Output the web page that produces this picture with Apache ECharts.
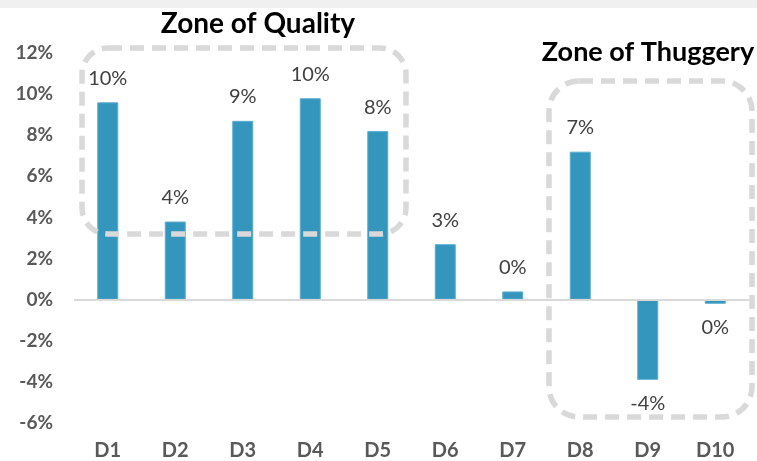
<!DOCTYPE html>
<html>
<head>
<meta charset="utf-8">
<script src="https://cdn.jsdelivr.net/npm/echarts@6/dist/echarts.min.js"></script>
<style>
  html, body { margin: 0; padding: 0; background: #fff; }
  #top { height: 8px; background: #f0f0f0; }
  #chart { position: absolute; left: 0; top: 0; width: 757px; height: 461px; }
</style>
</head>
<body>
<div id="top"></div>
<div id="chart"></div>
<script>
const categories = ['D1', 'D2', 'D3', 'D4', 'D5', 'D6', 'D7', 'D8', 'D9', 'D10']
const returns = [9.6, 3.8, 8.7, 9.8, 8.2, 2.7, 0.4, 7.2, -3.9, -0.2]
const yTicks = { min: -6, max: 12, interval: 2 }

const font = 'Lato, "Open Sans", sans-serif'
const zoneStyle = {
  fill: 'none',
  stroke: '#d9d9d9',
  lineWidth: 5.5,
  lineDash: [14, 8]
}

const chart = echarts.init(document.getElementById('chart'))
chart.setOption({
  animation: false,
  grid: { left: 74, right: 8, top: 53, bottom: 37 },
  xAxis: {
    type: 'category',
    data: categories,
    axisLine: { show: false },
    axisTick: { show: false },
    axisLabel: {
      color: '#595959',
      fontFamily: font,
      fontWeight: 'bold',
      fontSize: 20,
      margin: 18
    }
  },
  yAxis: {
    type: 'value',
    min: yTicks.min,
    max: yTicks.max,
    interval: yTicks.interval,
    splitLine: { show: false },
    axisLine: { show: false },
    axisLabel: {
      formatter: '{value}%',
      color: '#595959',
      fontFamily: font,
      fontWeight: 'bold',
      fontSize: 19,
      margin: 21
    }
  },
  series: [
    {
      type: 'bar',
      data: returns,
      barWidth: 21,
      itemStyle: { color: '#3596bd', borderColor: '#5aaed0', borderWidth: 1 },
      label: {
        show: true,
        position: 'outside',
        distance: 14,
        color: '#404040',
        fontFamily: font,
        fontSize: 20,
        formatter: p => Math.round(p.value) + '%'
      },
      markLine: {
        silent: true,
        symbol: 'none',
        label: { show: false },
        lineStyle: { color: '#d9d9d9', width: 2, type: 'solid' },
        data: [{ yAxis: 0 }]
      },
      z: 2
    }
  ],
  graphic: [
    {
      type: 'rect',
      shape: { x: 82, y: 48, width: 324, height: 186, r: 26 },
      style: zoneStyle,
      z: 10
    },
    {
      type: 'rect',
      shape: { x: 549, y: 81, width: 203, height: 336, r: 30 },
      style: zoneStyle,
      z: 10
    },
    {
      type: 'text',
      style: {
        x: 258,
        y: 24,
        text: 'Zone of Quality',
        textAlign: 'center',
        textVerticalAlign: 'middle',
        fill: '#000',
        font: 'bold 28px ' + font
      }
    },
    {
      type: 'text',
      style: {
        x: 648,
        y: 52,
        text: 'Zone of Thuggery',
        textAlign: 'center',
        textVerticalAlign: 'middle',
        fill: '#000',
        font: 'bold 27px ' + font
      }
    }
  ]
})
</script>
</body>
</html>
